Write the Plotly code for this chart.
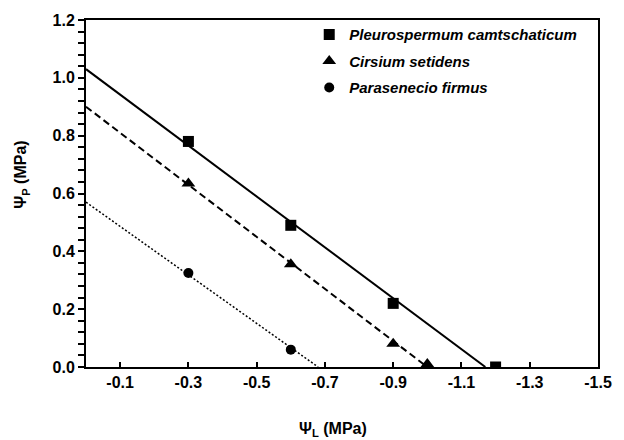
import plotly.graph_objects as go

# ---- data ----
species = ["Pleurospermum camtschaticum", "Cirsium setidens", "Parasenecio firmus"]

sq_x = [-0.3, -0.6, -0.9, -1.2]
sq_y = [0.78, 0.49, 0.22, 0.0]

tri_x = [-0.3, -0.6, -0.9, -1.0]
tri_y = [0.635, 0.355, 0.08, 0.01]

cir_x = [-0.3, -0.6]
cir_y = [0.325, 0.06]

# fitted lines: (x at y-intercept, x at zero) and (y-intercept, 0)
fit_sq_x = [0.0, -1.17]
fit_sq_y = [1.03, 0.0]
fit_tri_x = [0.0, -1.0]
fit_tri_y = [0.90, 0.0]
fit_cir_x = [0.0, -0.68]
fit_cir_y = [0.57, 0.0]

x_ticks = [-0.1, -0.3, -0.5, -0.7, -0.9, -1.1, -1.3, -1.5]
x_tick_labels = ["-0.1", "-0.3", "-0.5", "-0.7", "-0.9", "-1.1", "-1.3", "-1.5"]
y_ticks = [0.0, 0.2, 0.4, 0.6, 0.8, 1.0, 1.2]
y_tick_labels = ["0.0", "0.2", "0.4", "0.6", "0.8", "1.0", "1.2"]

FONT = "Liberation Sans, Arial, sans-serif"

fig = go.Figure()

# fit lines
fig.add_trace(go.Scatter(x=fit_sq_x, y=fit_sq_y, mode="lines",
                         line=dict(color="black", width=2), showlegend=False, hoverinfo="skip"))
fig.add_trace(go.Scatter(x=fit_tri_x, y=fit_tri_y, mode="lines",
                         line=dict(color="black", width=2, dash="7px,4px"), showlegend=False, hoverinfo="skip"))
fig.add_trace(go.Scatter(x=fit_cir_x, y=fit_cir_y, mode="lines",
                         line=dict(color="black", width=1.5, dash="2px,2px"), showlegend=False, hoverinfo="skip"))

# markers
fig.add_trace(go.Scatter(x=sq_x, y=sq_y, mode="markers", name=species[0], legendgroup="a",
                         marker=dict(symbol="square", size=11, color="black")))
fig.add_trace(go.Scatter(x=tri_x, y=tri_y, mode="markers", name=species[1], legendgroup="b",
                         marker=dict(symbol="triangle-up", size=12, color="black")))
fig.add_trace(go.Scatter(x=cir_x, y=cir_y, mode="markers", name=species[2], legendgroup="c",
                         marker=dict(symbol="circle", size=10, color="black")))

fig.update_layout(
    width=624, height=440,
    margin=dict(l=86, r=25, t=15, b=73),
    paper_bgcolor="white", plot_bgcolor="white",
    font=dict(family=FONT, color="black", size=15),
    legend=dict(
        x=0.436, y=1.005, xanchor="left", yanchor="top",
        bgcolor="rgba(0,0,0,0)", borderwidth=0,
        itemwidth=30, tracegroupgap=4,
        font=dict(family=FONT, size=15, color="black", style="italic", weight="bold"),
    ),
    showlegend=True,
)

fig.update_xaxes(
    range=[0, -1.5], autorange=False,
    tickmode="array", tickvals=x_ticks, ticktext=x_tick_labels,
    ticks="inside", ticklen=5, tickwidth=1.5, tickcolor="black",
    tickfont=dict(family=FONT, size=16, weight="bold"),
    showline=True, linecolor="black", linewidth=2, mirror=True,
    showgrid=False, zeroline=False,
)
fig.update_yaxes(
    range=[0, 1.2], autorange=False,
    tickmode="array", tickvals=y_ticks, ticktext=y_tick_labels,
    ticks="outside", ticklen=6, tickwidth=1.5, tickcolor="black",
    minor=dict(ticks="outside", dtick=0.04, ticklen=6, tickwidth=1.5, tickcolor="black", showgrid=False),
    tickfont=dict(family=FONT, size=16, weight="bold"),
    showline=True, linecolor="black", linewidth=2, mirror=True,
    showgrid=False, zeroline=False,
)

fig.add_annotation(text="Ψ<sub>P</sub> (MPa)", xref="paper", yref="paper",
                   x=-0.125, y=0.554, xanchor="center", yanchor="middle",
                   textangle=-90, showarrow=False,
                   font=dict(family=FONT, size=16, weight="bold"))
fig.add_annotation(text="Ψ<sub>L</sub> (MPa)", xref="paper", yref="paper",
                   x=0.483, y=-0.179, xanchor="center", yanchor="middle",
                   showarrow=False,
                   font=dict(family=FONT, size=16, weight="bold"))

fig.write_html("out.html", config={"displayModeBar": False},
               post_script="document.body.style.margin='0px';")
